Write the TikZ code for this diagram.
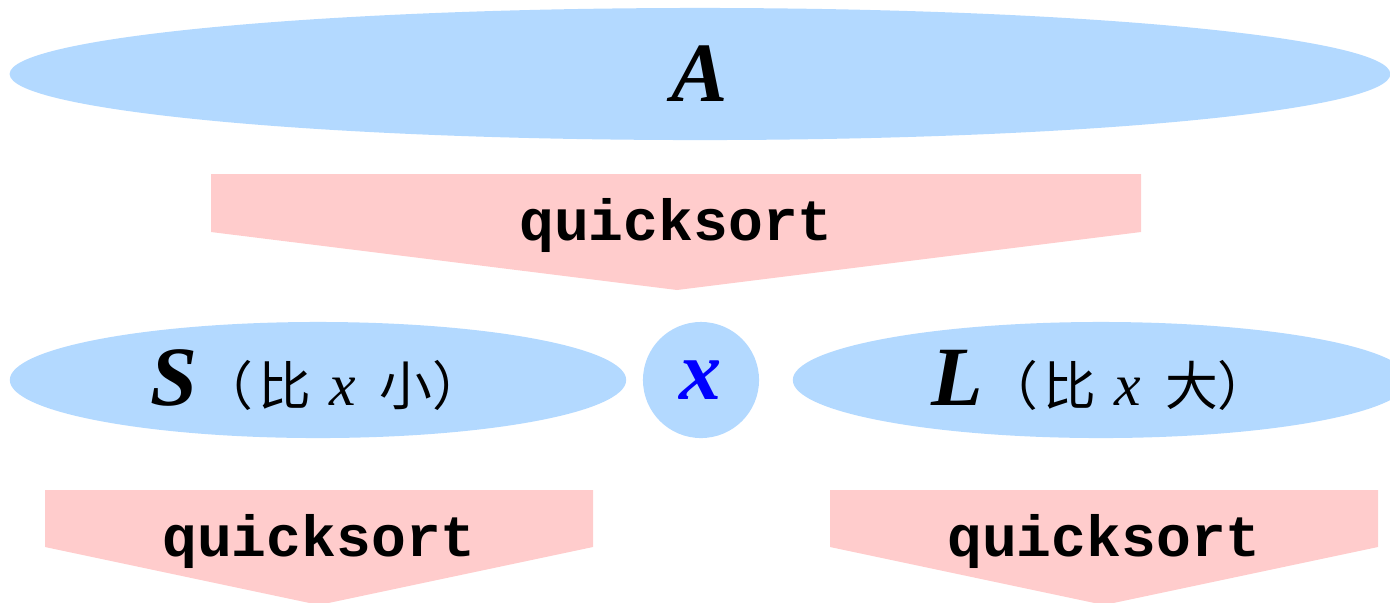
\documentclass[tikz,border=0pt]{standalone}
\usepackage{fontspec}
\setmainfont{Liberation Serif}
\setmonofont{Liberation Mono}
\newfontfamily\cjk{Noto Sans CJK SC}
\usetikzlibrary{shapes.geometric}
\definecolor{setblue}{RGB}{179,217,255}
\definecolor{sortpink}{RGB}{255,204,204}
\newcommand{\setname}[1]{{\fontsize{24}{24}\selectfont\bfseries\itshape #1}}
\newcommand{\setnote}[2]{{\fontsize{15}{15}\selectfont\cjk\hspace{0.05em}（\hspace{0.1em}#1\hspace{0.35em}{\fontsize{17}{17}\selectfont\textrm{\textit{x}}}\hspace{0.45em}#2）}}
\begin{document}
\begin{tikzpicture}[x=0.01cm,y=-0.01cm,
  set/.style={ellipse,fill=setblue,inner sep=0pt},
  sortcall/.style={anchor=base,font=\fontsize{16.5}{16.5}\selectfont\ttfamily\bfseries}]
\useasboundingbox (0,0) rectangle (1390,602);
\clip (0,0) rectangle (1390,602);
% the array
\node[set,minimum width=13.8cm,minimum height=1.32cm] (A) at (700,74) {\setname{A}};
\fill[sortpink] (211,174) -- (1141,174) -- (1141,232) -- (677,290) -- (211,232) -- cycle;
\node[sortcall] (qsA) at (676,240) {quicksort};
% partition
\node[set,minimum width=6.16cm,minimum height=1.16cm] (S) at (318,380)
  {\setname{S}\setnote{比}{小}};
\node[circle,fill=setblue,minimum size=1.16cm,inner sep=0pt] (x) at (701,380)
  {\textcolor{blue}{\setname{x}}};
\node[set,minimum width=6.16cm,minimum height=1.16cm] (L) at (1101,380)
  {\setname{L}\setnote{比}{大}};
% recursive calls
\foreach \cx/\nm in {319/qsS,1104/qsL}{
  \fill[sortpink] (\cx-274,490) -- (\cx+274,490) -- (\cx+274,547)
    -- (\cx,605) -- (\cx-274,547) -- cycle;
  \node[sortcall] (\nm) at (\cx,556) {quicksort};
}
\end{tikzpicture}
\end{document}
